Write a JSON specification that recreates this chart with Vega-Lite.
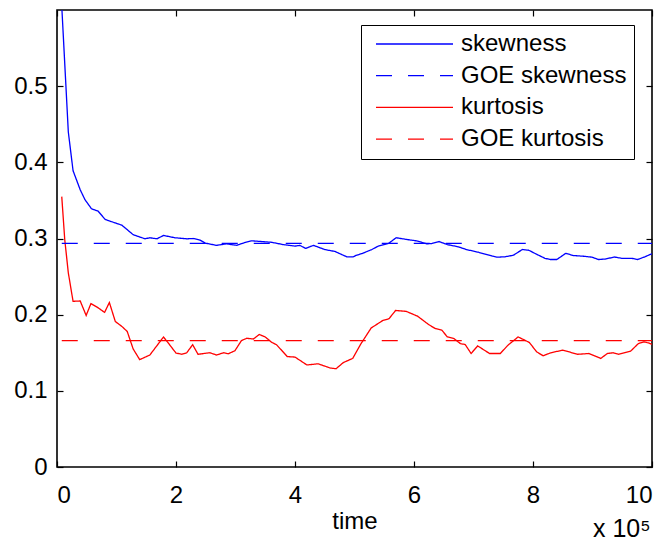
{
  "$schema": "https://vega.github.io/schema/vega-lite/v6.json",
  "width": 595,
  "height": 457,
  "autosize": "none",
  "padding": {"left": 57, "top": 10, "right": 18, "bottom": 77},
  "background": "white",
  "config": {
    "font": "Liberation Sans",
    "view": {"stroke": "black", "strokeWidth": 1.6},
    "axis": {"labelFont": "Liberation Sans", "titleFont": "Liberation Sans", "labelColor": "black", "titleColor": "black", "tickColor": "black", "grid": false, "domain": false}
  },
  "title": {"text": "x 10⁵", "orient": "bottom", "anchor": "end", "fontSize": 25, "fontWeight": "normal", "font": "Liberation Sans", "color": "black", "offset": -16, "dx": -2},
  "datasets": {
    "curves": [
      {"series": "skewness", "t": 0.08, "v": 0.605},
      {"series": "skewness", "t": 0.19, "v": 0.44},
      {"series": "skewness", "t": 0.27, "v": 0.389},
      {"series": "skewness", "t": 0.39, "v": 0.364},
      {"series": "skewness", "t": 0.47, "v": 0.351},
      {"series": "skewness", "t": 0.58, "v": 0.339},
      {"series": "skewness", "t": 0.69, "v": 0.336},
      {"series": "skewness", "t": 0.81, "v": 0.325},
      {"series": "skewness", "t": 0.92, "v": 0.322},
      {"series": "skewness", "t": 1.09, "v": 0.3175},
      {"series": "skewness", "t": 1.28, "v": 0.305},
      {"series": "skewness", "t": 1.48, "v": 0.2996},
      {"series": "skewness", "t": 1.56, "v": 0.301},
      {"series": "skewness", "t": 1.68, "v": 0.2996},
      {"series": "skewness", "t": 1.79, "v": 0.304},
      {"series": "skewness", "t": 1.98, "v": 0.301},
      {"series": "skewness", "t": 2.18, "v": 0.2996},
      {"series": "skewness", "t": 2.29, "v": 0.3},
      {"series": "skewness", "t": 2.4, "v": 0.298},
      {"series": "skewness", "t": 2.49, "v": 0.294},
      {"series": "skewness", "t": 2.68, "v": 0.291},
      {"series": "skewness", "t": 2.85, "v": 0.293},
      {"series": "skewness", "t": 3.02, "v": 0.291},
      {"series": "skewness", "t": 3.13, "v": 0.294},
      {"series": "skewness", "t": 3.27, "v": 0.297},
      {"series": "skewness", "t": 3.44, "v": 0.296},
      {"series": "skewness", "t": 3.61, "v": 0.295},
      {"series": "skewness", "t": 3.8, "v": 0.292},
      {"series": "skewness", "t": 4.0, "v": 0.29},
      {"series": "skewness", "t": 4.08, "v": 0.291},
      {"series": "skewness", "t": 4.18, "v": 0.287},
      {"series": "skewness", "t": 4.31, "v": 0.291},
      {"series": "skewness", "t": 4.5, "v": 0.2855},
      {"series": "skewness", "t": 4.67, "v": 0.283},
      {"series": "skewness", "t": 4.87, "v": 0.276},
      {"series": "skewness", "t": 4.98, "v": 0.276},
      {"series": "skewness", "t": 5.03, "v": 0.278},
      {"series": "skewness", "t": 5.12, "v": 0.28},
      {"series": "skewness", "t": 5.29, "v": 0.2855},
      {"series": "skewness", "t": 5.4, "v": 0.29},
      {"series": "skewness", "t": 5.57, "v": 0.2934},
      {"series": "skewness", "t": 5.7, "v": 0.301},
      {"series": "skewness", "t": 5.88, "v": 0.2987},
      {"series": "skewness", "t": 6.06, "v": 0.2967},
      {"series": "skewness", "t": 6.21, "v": 0.293},
      {"series": "skewness", "t": 6.3, "v": 0.2934},
      {"series": "skewness", "t": 6.42, "v": 0.296},
      {"series": "skewness", "t": 6.56, "v": 0.292},
      {"series": "skewness", "t": 6.75, "v": 0.289},
      {"series": "skewness", "t": 6.88, "v": 0.2855},
      {"series": "skewness", "t": 7.08, "v": 0.282},
      {"series": "skewness", "t": 7.31, "v": 0.277},
      {"series": "skewness", "t": 7.4, "v": 0.2755},
      {"series": "skewness", "t": 7.53, "v": 0.276},
      {"series": "skewness", "t": 7.67, "v": 0.278},
      {"series": "skewness", "t": 7.82, "v": 0.2855},
      {"series": "skewness", "t": 7.93, "v": 0.2846},
      {"series": "skewness", "t": 8.06, "v": 0.2793},
      {"series": "skewness", "t": 8.2, "v": 0.274},
      {"series": "skewness", "t": 8.29, "v": 0.2724},
      {"series": "skewness", "t": 8.4, "v": 0.2724},
      {"series": "skewness", "t": 8.55, "v": 0.2805},
      {"series": "skewness", "t": 8.68, "v": 0.2776},
      {"series": "skewness", "t": 8.85, "v": 0.2767},
      {"series": "skewness", "t": 8.99, "v": 0.2755},
      {"series": "skewness", "t": 9.1, "v": 0.2724},
      {"series": "skewness", "t": 9.21, "v": 0.273},
      {"series": "skewness", "t": 9.37, "v": 0.2757},
      {"series": "skewness", "t": 9.49, "v": 0.274},
      {"series": "skewness", "t": 9.66, "v": 0.274},
      {"series": "skewness", "t": 9.76, "v": 0.2724},
      {"series": "skewness", "t": 9.88, "v": 0.276},
      {"series": "skewness", "t": 10.0, "v": 0.28},
      {"series": "kurtosis", "t": 0.08, "v": 0.355},
      {"series": "kurtosis", "t": 0.13, "v": 0.2987},
      {"series": "kurtosis", "t": 0.19, "v": 0.255},
      {"series": "kurtosis", "t": 0.27, "v": 0.2175},
      {"series": "kurtosis", "t": 0.39, "v": 0.218},
      {"series": "kurtosis", "t": 0.49, "v": 0.199},
      {"series": "kurtosis", "t": 0.57, "v": 0.2145},
      {"series": "kurtosis", "t": 0.68, "v": 0.2096},
      {"series": "kurtosis", "t": 0.8, "v": 0.203},
      {"series": "kurtosis", "t": 0.88, "v": 0.216},
      {"series": "kurtosis", "t": 0.98, "v": 0.191},
      {"series": "kurtosis", "t": 1.09, "v": 0.1846},
      {"series": "kurtosis", "t": 1.18, "v": 0.178},
      {"series": "kurtosis", "t": 1.28, "v": 0.155},
      {"series": "kurtosis", "t": 1.39, "v": 0.141},
      {"series": "kurtosis", "t": 1.56, "v": 0.147},
      {"series": "kurtosis", "t": 1.79, "v": 0.1707},
      {"series": "kurtosis", "t": 1.87, "v": 0.1628},
      {"series": "kurtosis", "t": 2.0, "v": 0.1496},
      {"series": "kurtosis", "t": 2.1, "v": 0.148},
      {"series": "kurtosis", "t": 2.18, "v": 0.15},
      {"series": "kurtosis", "t": 2.28, "v": 0.1605},
      {"series": "kurtosis", "t": 2.37, "v": 0.148},
      {"series": "kurtosis", "t": 2.57, "v": 0.15},
      {"series": "kurtosis", "t": 2.68, "v": 0.147},
      {"series": "kurtosis", "t": 2.8, "v": 0.15},
      {"series": "kurtosis", "t": 2.88, "v": 0.1487},
      {"series": "kurtosis", "t": 2.99, "v": 0.1526},
      {"series": "kurtosis", "t": 3.1, "v": 0.166},
      {"series": "kurtosis", "t": 3.19, "v": 0.169},
      {"series": "kurtosis", "t": 3.3, "v": 0.168},
      {"series": "kurtosis", "t": 3.4, "v": 0.174},
      {"series": "kurtosis", "t": 3.5, "v": 0.1707},
      {"series": "kurtosis", "t": 3.61, "v": 0.1636},
      {"series": "kurtosis", "t": 3.69, "v": 0.1605},
      {"series": "kurtosis", "t": 3.87, "v": 0.145},
      {"series": "kurtosis", "t": 4.0, "v": 0.1443},
      {"series": "kurtosis", "t": 4.2, "v": 0.134},
      {"series": "kurtosis", "t": 4.39, "v": 0.1355},
      {"series": "kurtosis", "t": 4.59, "v": 0.13},
      {"series": "kurtosis", "t": 4.69, "v": 0.129},
      {"series": "kurtosis", "t": 4.81, "v": 0.137},
      {"series": "kurtosis", "t": 4.97, "v": 0.1426},
      {"series": "kurtosis", "t": 5.11, "v": 0.162},
      {"series": "kurtosis", "t": 5.28, "v": 0.1825},
      {"series": "kurtosis", "t": 5.48, "v": 0.1926},
      {"series": "kurtosis", "t": 5.58, "v": 0.1947},
      {"series": "kurtosis", "t": 5.69, "v": 0.2055},
      {"series": "kurtosis", "t": 5.87, "v": 0.2043},
      {"series": "kurtosis", "t": 6.06, "v": 0.198},
      {"series": "kurtosis", "t": 6.25, "v": 0.1868},
      {"series": "kurtosis", "t": 6.36, "v": 0.1817},
      {"series": "kurtosis", "t": 6.47, "v": 0.1795},
      {"series": "kurtosis", "t": 6.56, "v": 0.1708},
      {"series": "kurtosis", "t": 6.67, "v": 0.1687},
      {"series": "kurtosis", "t": 6.78, "v": 0.162},
      {"series": "kurtosis", "t": 6.86, "v": 0.1608},
      {"series": "kurtosis", "t": 6.96, "v": 0.149},
      {"series": "kurtosis", "t": 7.07, "v": 0.159},
      {"series": "kurtosis", "t": 7.27, "v": 0.149},
      {"series": "kurtosis", "t": 7.45, "v": 0.149},
      {"series": "kurtosis", "t": 7.58, "v": 0.16},
      {"series": "kurtosis", "t": 7.75, "v": 0.1708},
      {"series": "kurtosis", "t": 7.94, "v": 0.1634},
      {"series": "kurtosis", "t": 8.06, "v": 0.1513},
      {"series": "kurtosis", "t": 8.17, "v": 0.146},
      {"series": "kurtosis", "t": 8.3, "v": 0.15},
      {"series": "kurtosis", "t": 8.5, "v": 0.1534},
      {"series": "kurtosis", "t": 8.75, "v": 0.148},
      {"series": "kurtosis", "t": 8.94, "v": 0.149},
      {"series": "kurtosis", "t": 9.14, "v": 0.1426},
      {"series": "kurtosis", "t": 9.25, "v": 0.149},
      {"series": "kurtosis", "t": 9.35, "v": 0.15},
      {"series": "kurtosis", "t": 9.44, "v": 0.148},
      {"series": "kurtosis", "t": 9.64, "v": 0.152},
      {"series": "kurtosis", "t": 9.77, "v": 0.162},
      {"series": "kurtosis", "t": 9.86, "v": 0.1643},
      {"series": "kurtosis", "t": 9.94, "v": 0.163},
      {"series": "kurtosis", "t": 10.0, "v": 0.161}
    ],
    "goe": [
      {"series": "GOE skewness", "t": 0.08, "v": 0.2935},
      {"series": "GOE skewness", "t": 10.0, "v": 0.2935},
      {"series": "GOE kurtosis", "t": 0.08, "v": 0.1659},
      {"series": "GOE kurtosis", "t": 10.0, "v": 0.1659}
    ]
  },
  "layer": [
    {
      "data": {"name": "curves"},
      "mark": {"type": "line", "clip": true, "strokeWidth": 1.3},
      "encoding": {
        "x": {"field": "t", "type": "quantitative", "scale": {"domain": [0, 10], "nice": false, "zero": false},
              "axis": {"orient": "bottom", "values": [0, 2, 4, 6, 8, 10], "tickSize": -6, "tickWidth": 1.2, "labelPadding": 22, "labelFontSize": 24, "title": "time", "titleFontSize": 24, "titleFontWeight": "normal", "titlePadding": 2}},
        "y": {"field": "v", "type": "quantitative", "scale": {"domain": [0, 0.6], "nice": false},
              "axis": {"orient": "left", "values": [0, 0.1, 0.2, 0.3, 0.4, 0.5], "format": ".1~f", "tickSize": -6, "tickWidth": 1.2, "labelPadding": 16, "labelFontSize": 24, "title": null}},
        "color": {"field": "series", "type": "nominal",
                  "scale": {"domain": ["skewness", "GOE skewness", "kurtosis", "GOE kurtosis"], "range": ["#0000ff", "#0000ff", "#ff0000", "#ff0000"]},
                  "legend": {"title": null, "orient": "none", "legendX": 304, "legendY": 15, "symbolType": "stroke", "symbolSize": 5929, "symbolStrokeWidth": 1.3, "clipHeight": 24, "symbolOffset": 7, "labelFontSize": 24, "labelFont": "Liberation Sans", "labelColor": "black", "labelOffset": 7, "padding": 7, "rowPadding": 7.7, "strokeColor": "black", "fillColor": "white", "labelLimit": 300}},
        "strokeDash": {"field": "series", "type": "nominal",
                  "scale": {"domain": ["skewness", "GOE skewness", "kurtosis", "GOE kurtosis"], "range": [[1, 0], [16, 16], [1, 0], [16, 16]]},
                  "legend": {"title": null, "orient": "none", "legendX": 304, "legendY": 15, "symbolType": "stroke", "symbolSize": 5929, "symbolStrokeWidth": 1.3, "clipHeight": 24, "symbolOffset": 7, "labelFontSize": 24, "labelFont": "Liberation Sans", "labelColor": "black", "labelOffset": 7, "padding": 7, "rowPadding": 7.7, "strokeColor": "black", "fillColor": "white", "labelLimit": 300}}
      }
    },
    {
      "data": {"name": "goe"},
      "mark": {"type": "line", "clip": true, "strokeWidth": 1.3},
      "encoding": {
        "x": {"field": "t", "type": "quantitative",
              "axis": {"orient": "top", "values": [0, 2, 4, 6, 8, 10], "tickSize": -6, "tickWidth": 1.2, "labels": false, "title": null}},
        "y": {"field": "v", "type": "quantitative",
              "axis": {"orient": "right", "values": [0, 0.1, 0.2, 0.3, 0.4, 0.5], "tickSize": -6, "tickWidth": 1.2, "labels": false, "title": null}},
        "color": {"field": "series", "type": "nominal"},
        "strokeDash": {"field": "series", "type": "nominal"}
      }
    }
  ],
  "resolve": {"axis": {"x": "independent", "y": "independent"}}
}
